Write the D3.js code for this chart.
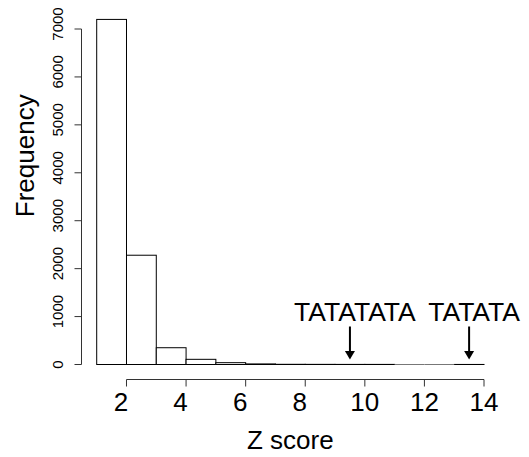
<!DOCTYPE html>
<html>
<head>
<meta charset="utf-8">
<script src="https://cdn.jsdelivr.net/npm/d3@7"></script>
<style>
  body { margin: 0; background: #fff; }
  svg text { font-family: "Liberation Sans", Arial, sans-serif; fill: #000; }
</style>
</head>
<body>
<div id="chart"></div>
<script>
// histogram bins (Z score) and counts
const binEdges = [1, 2, 3, 4, 5, 6, 7, 8, 9, 10, 11, 12, 13, 14];
const counts = [7200, 2280, 350, 108, 38, 12, 4, 3, 2, 2, 0, 0, 1];

const xTicks = [2, 4, 6, 8, 10, 12, 14];
const yTicks = [0, 1000, 2000, 3000, 4000, 5000, 6000, 7000];

// annotated motifs
const motifLabels = ["TATATATA", "TATATA"];
const motifZ = [9.5, 13.5];

const width = 529, height = 457;

const svg = d3.select("#chart").append("svg")
    .attr("width", width)
    .attr("height", height);

const x = d3.scaleLinear().domain([1, 14]).range([96.7, 484]);
const y = d3.scaleLinear().domain([0, 7000]).range([364.5, 29]);

// bars
const bins = counts.map((c, i) => ({ x0: binEdges[i], x1: binEdges[i + 1], n: c }));

svg.selectAll("rect.bar")
    .data(bins.filter(d => d.n > 0))
    .enter()
    .append("rect")
    .attr("class", "bar")
    .attr("x", d => x(d.x0))
    .attr("y", d => y(d.n))
    .attr("width", d => x(d.x1) - x(d.x0))
    .attr("height", d => y(0) - y(d.n))
    .attr("fill", "#fff")
    .attr("stroke", "#000")
    .attr("stroke-width", 1);

// empty bins still show as a flat line
svg.selectAll("line.empty")
    .data(bins.filter(d => d.n === 0))
    .enter()
    .append("line")
    .attr("class", "empty")
    .attr("x1", d => x(d.x0)).attr("x2", d => x(d.x1))
    .attr("y1", y(0)).attr("y2", y(0))
    .attr("stroke", "#777");

// x axis (R style: line from first to last tick, ticks down)
const xAxisY = 379.5;
const xAxis = svg.append("g").attr("transform", `translate(0,${xAxisY})`);
xAxis.append("line")
    .attr("x1", x(xTicks[0])).attr("x2", x(xTicks[xTicks.length - 1]))
    .attr("stroke", "#333");
xAxis.selectAll("line.tick")
    .data(xTicks)
    .enter()
    .append("line")
    .attr("class", "tick")
    .attr("x1", d => x(d)).attr("x2", d => x(d))
    .attr("y1", 0).attr("y2", 7)
    .attr("stroke", "#333");
xAxis.selectAll("text")
    .data(xTicks)
    .enter()
    .append("text")
    .attr("x", d => x(d))
    .attr("dx", d => String(d).length === 1 ? -5.5 : 0)
    .attr("y", 31.5)
    .attr("text-anchor", "middle")
    .style("font-size", "26px")
    .text(d => d);

svg.append("text")
    .attr("x", (x(1) + x(14)) / 2)
    .attr("y", 448.5)
    .attr("text-anchor", "middle")
    .style("font-size", "26px")
    .text("Z score");

// y axis
const yAxisX = 81.5;
const yAxis = svg.append("g").attr("transform", `translate(${yAxisX},0)`);
yAxis.append("line")
    .attr("y1", y(yTicks[0])).attr("y2", y(yTicks[yTicks.length - 1]))
    .attr("stroke", "#333");
yAxis.selectAll("line.tick")
    .data(yTicks)
    .enter()
    .append("line")
    .attr("class", "tick")
    .attr("y1", d => y(d)).attr("y2", d => y(d))
    .attr("x1", 0).attr("x2", -7)
    .attr("stroke", "#333");
yAxis.selectAll("text")
    .data(yTicks)
    .enter()
    .append("text")
    .attr("transform", d => `translate(-19,${y(d)}) rotate(-90)`)
    .attr("dx", d => d === 0 ? 0 : 5)
    .attr("text-anchor", "middle")
    .style("font-size", "15px")
    .text(d => d);

svg.append("text")
    .attr("transform", `translate(33.5,${(y(0) + 19) / 2 - 36}) rotate(-90)`)
    .attr("text-anchor", "middle")
    .style("font-size", "26px")
    .text("Frequency");

// arrows with motif labels
const ann = svg.selectAll("g.ann")
    .data(motifLabels.map((lab, i) => ({ lab: lab, z: motifZ[i] })))
    .enter()
    .append("g")
    .attr("class", "ann");

ann.append("text")
    .attr("x", d => x(d.z) + 5)
    .attr("y", 320.5)
    .attr("text-anchor", "middle")
    .style("font-size", "26.5px")
    .text(d => d.lab);

ann.append("line")
    .attr("x1", d => x(d.z)).attr("x2", d => x(d.z))
    .attr("y1", 326.5).attr("y2", 354)
    .attr("stroke", "#000")
    .attr("stroke-width", 2);

ann.append("path")
    .attr("d", d => {
        const cx = x(d.z);
        return `M${cx - 5},351 L${cx + 5},351 L${cx},359.5 Z`;
    })
    .attr("fill", "#000");
</script>
</body>
</html>
